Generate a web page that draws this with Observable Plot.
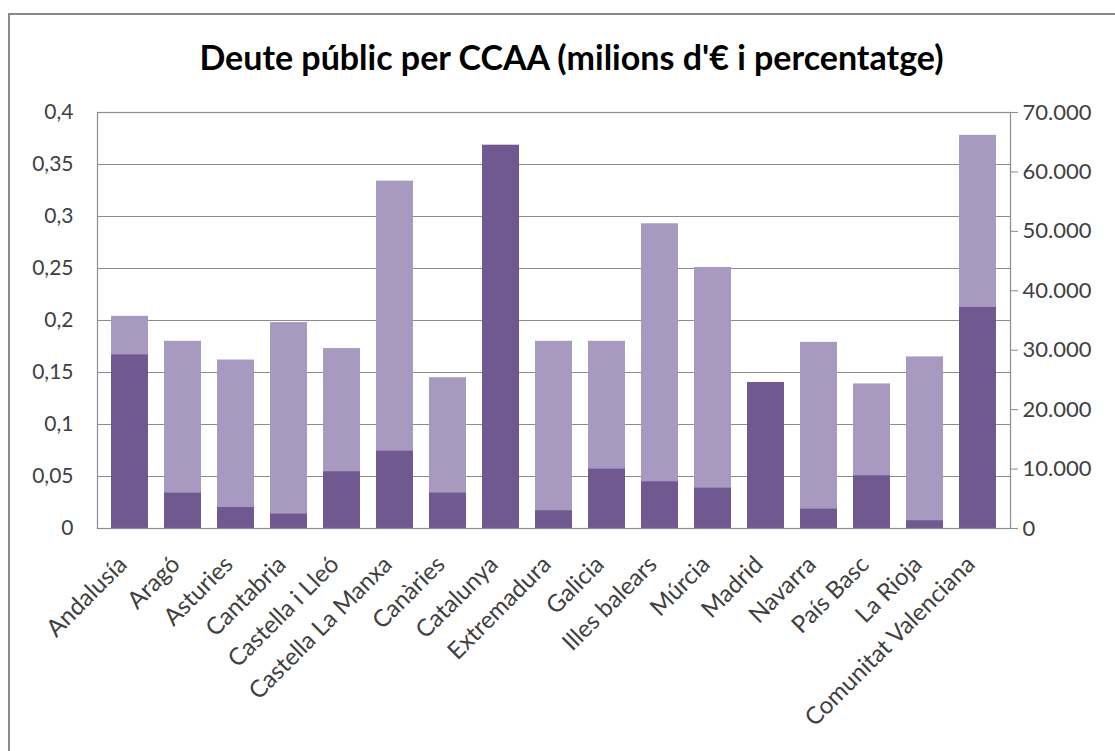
<!DOCTYPE html>
<html>
<head>
<meta charset="utf-8">
<script src="https://cdn.jsdelivr.net/npm/d3@7"></script>
<script src="https://cdn.jsdelivr.net/npm/@observablehq/plot@0.6"></script>
<style>
  html, body { margin: 0; padding: 0; background: #fff; }
  #wrap { position: relative; width: 1115px; height: 751px; overflow: hidden; background: #fff; }
  #border { position: absolute; left: 8px; top: 13px; width: 1120px; height: 760px; border-left: 2px solid #8a8a8a; border-top: 2px solid #8a8a8a; box-sizing: border-box; }
  #title { position: absolute; left: 0; top: 0; width: 1115px; height: 80px; box-sizing: border-box; padding-top: 38px; padding-left: 28px; text-align: center; font-family: Lato, "Open Sans", sans-serif; font-weight: 700; font-size: 34px; line-height: 38px; color: #000; }
  #chart { position: absolute; left: 0; top: 80px; }
</style>
</head>
<body>
<div id="wrap">
  <div id="border"></div>
  <div id="title">Deute públic per CCAA (milions d'€ i percentatge)</div>
  <div id="chart"></div>
</div>
<script>
const regions = ["Andalusía","Aragó","Asturies","Cantabria","Castella i Lleó","Castella La Manxa","Canàries","Catalunya","Extremadura","Galicia","Illes balears","Múrcia","Madrid","Navarra","País Basc","La Rioja","Comunitat Valenciana"];
// percentage of GDP (left axis)
const percent = [0.204,0.180,0.162,0.198,0.173,0.334,0.145,0.330,0.180,0.180,0.293,0.251,0.130,0.179,0.139,0.165,0.378];
// debt in millions of € (right axis)
const millions = [29200,5950,3530,2420,9540,13020,5960,64500,2980,9990,7860,6790,24570,3260,8870,1300,37190];
const leftTicks = [0,0.05,0.1,0.15,0.2,0.25,0.3,0.35,0.4];
const rightTicks = [0,10000,20000,30000,40000,50000,60000,70000];

const ratio = 0.4 / 70000;
const pctData = regions.map((r,i) => ({region: r, value: percent[i]}));
const milData = regions.map((r,i) => ({region: r, value: millions[i] * ratio}));

const fmtLeft = d => String(+d.toFixed(2)).replace(".", ",");
const fmtRight = d => { const v = Math.round(d / ratio); return v === 0 ? "0" : d3.format(",")(v).replace(/,/g, "."); };

const chart = Plot.plot({
  width: 1115,
  height: 671,
  marginTop: 32,
  marginBottom: 223,
  marginLeft: 97,
  marginRight: 105,
  style: {fontFamily: "Lato, 'Open Sans', sans-serif", fontSize: "21px", color: "#404040", background: "transparent"},
  x: {domain: regions, paddingInner: 0.31, paddingOuter: 0.155, label: null},
  y: {domain: [0, 0.4], label: null},
  marks: [
    Plot.gridY(leftTicks, {stroke: "#8c8c8c", strokeOpacity: 1, strokeWidth: 1.2}),
    Plot.barY(pctData, {x: "region", y: "value", fill: "#a799bf"}),
    Plot.barY(milData, {x: "region", y: "value", fill: "#6f5990"}),
    Plot.frame({stroke: "#8c8c8c", strokeWidth: 1.2}),
    Plot.axisY(leftTicks, {anchor: "left", tickSize: 0, tickPadding: 24, tickFormat: fmtLeft, label: null, fontSize: 21, fill: "#404040"}),
    Plot.axisY(rightTicks.map(v => v * ratio), {anchor: "right", tickSize: 7, tickPadding: 5, tickFormat: fmtRight, label: null, fontSize: 22, stroke: "#8c8c8c", fill: "#404040"}),
    Plot.axisX({tickRotate: -45, tickSize: 0, tickPadding: 12, dx: -7, dy: 20, label: null, fontSize: 24, fill: "#404040"})
  ]
});
document.getElementById("chart").appendChild(chart);
</script>
</body>
</html>
